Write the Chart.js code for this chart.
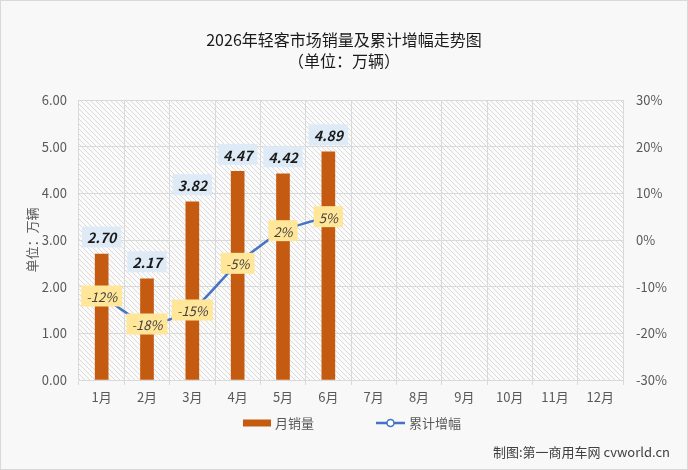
<!DOCTYPE html>
<html lang="zh-CN">
<head>
  <meta charset="UTF-8">
  <title>2026年轻客市场销量及累计增幅走势图</title>
  <style>
    body { margin: 0; background: #f8f8f8; }
    #box { width: 688px; height: 470px; }
  </style>
</head>
<body>
  <div id="box"><canvas id="grafico" width="688" height="470"></canvas></div>
  <script src="https://cdn.jsdelivr.net/npm/chart.js"></script>
  <script>
    // dados
    const meses = ['1月', '2月', '3月', '4月', '5月', '6月', '7月', '8月', '9月', '10月', '11月', '12月'];
    const vendas = [2.70, 2.17, 3.82, 4.47, 4.42, 4.89];
    const crescimento = [-12, -18, -15, -5, 2, 5];
    const eixoVendas = { min: 0, max: 6, passo: 1 };
    const eixoCresc = { min: -30, max: 30, passo: 10 };

    const FONTE = '"Noto Sans CJK SC", "Noto Sans", sans-serif';
    const CINZA = '#595959';

    // padrão hachurado do fundo da área do gráfico
    function hachura() {
      const c = document.createElement('canvas');
      c.width = 5; c.height = 5;
      const g = c.getContext('2d');
      g.fillStyle = '#fbfbfb';
      g.fillRect(0, 0, 5, 5);
      g.strokeStyle = '#dadada';
      g.lineWidth = 1;
      g.beginPath();
      g.moveTo(-1, -1); g.lineTo(6, 6);
      g.moveTo(-1, 4); g.lineTo(1, 6);
      g.moveTo(4, -1); g.lineTo(6, 1);
      g.stroke();
      return g.createPattern(c, 'repeat');
    }

    const fundo = {
      id: 'fundo',
      beforeDraw(chart) {
        const { ctx, chartArea: a, width, height } = chart;
        ctx.save();
        ctx.fillStyle = '#f8f8f8';
        ctx.fillRect(0, 0, width, height);
        ctx.strokeStyle = '#d9d9d9';
        ctx.lineWidth = 1;
        ctx.strokeRect(0.5, 0.5, width - 1, height - 1);
        ctx.fillStyle = hachura();
        ctx.fillRect(a.left, a.top, a.right - a.left, a.bottom - a.top);

        // título
        ctx.fillStyle = '#1a1a1a';
        ctx.font = '16px ' + FONTE;
        ctx.textAlign = 'center';
        ctx.textBaseline = 'middle';
        ctx.fillText('2026年轻客市场销量及累计增幅走势图', width / 2, 40);
        ctx.fillText('（单位：万辆）', width / 2, 61);

        // título do eixo y
        ctx.fillStyle = CINZA;
        ctx.font = '13px ' + FONTE;
        ctx.translate(32, (a.top + a.bottom) / 2);
        ctx.rotate(-Math.PI / 2);
        ctx.fillText('单位：万辆', 0, 0);
        ctx.restore();
      }
    };

    function caixa(ctx, texto, x, y, cor, corTexto, fonte) {
      ctx.font = fonte;
      const w = ctx.measureText(texto).width + 10;
      const h = 21;
      ctx.fillStyle = cor;
      ctx.fillRect(x - w / 2, y - h / 2, w, h);
      ctx.fillStyle = corTexto;
      ctx.textAlign = 'center';
      ctx.textBaseline = 'middle';
      ctx.fillText(texto, x, y + 1);
    }

    const rotulos = {
      id: 'rotulos',
      afterDatasetsDraw(chart) {
        const { ctx } = chart;
        ctx.save();
        chart.getDatasetMeta(0).data.forEach((el, i) => {
          caixa(ctx, vendas[i].toFixed(2), el.x, el.y - 17, '#deebf7', '#1a1a1a', 'italic bold 14px ' + FONTE);
        });
        chart.getDatasetMeta(1).data.forEach((el, i) => {
          caixa(ctx, crescimento[i] + '%', el.x, el.y, '#ffe699', '#404040', 'italic 13px ' + FONTE);
        });
        ctx.restore();
      },
      afterDraw(chart) {
        const { ctx, width, height } = chart;
        ctx.save();
        ctx.font = '13px ' + FONTE;
        ctx.textBaseline = 'middle';
        ctx.textAlign = 'left';
        // legenda
        const y = 423;
        ctx.fillStyle = '#c55a11';
        ctx.fillRect(243, y - 3.5, 28, 7);
        ctx.fillStyle = CINZA;
        ctx.fillText('月销量', 275, y);
        ctx.strokeStyle = '#4472c4';
        ctx.lineWidth = 2.5;
        ctx.beginPath();
        ctx.moveTo(376, y); ctx.lineTo(405, y);
        ctx.stroke();
        ctx.beginPath();
        ctx.arc(390.5, y, 3.5, 0, Math.PI * 2);
        ctx.fillStyle = '#ffffff';
        ctx.fill();
        ctx.lineWidth = 1.5;
        ctx.stroke();
        ctx.fillStyle = CINZA;
        ctx.fillText('累计增幅', 409, y);
        // crédito
        ctx.fillStyle = '#404040';
        ctx.textAlign = 'right';
        ctx.fillText('制图:第一商用车网 cvworld.cn', width - 18, height - 18);
        ctx.restore();
      }
    };

    new Chart(document.getElementById('grafico'), {
      data: {
        labels: meses,
        datasets: [
          {
            type: 'bar',
            label: '月销量',
            data: vendas,
            backgroundColor: '#c55a11',
            barThickness: 13,
            yAxisID: 'y',
            order: 2
          },
          {
            type: 'line',
            label: '累计增幅',
            data: crescimento,
            borderColor: '#4472c4',
            borderWidth: 2.5,
            pointRadius: 4,
            pointBackgroundColor: '#ffffff',
            pointBorderColor: '#4472c4',
            tension: 0.2,
            yAxisID: 'y1',
            order: 1
          }
        ]
      },
      options: {
        responsive: false,
        animation: false,
        layout: { padding: { top: 100, bottom: 60, left: 0, right: 0 } },
        plugins: {
          legend: { display: false },
          title: { display: false },
          tooltip: { enabled: false }
        },
        scales: {
          x: {
            offset: true,
            grid: { offset: true, color: '#d9d9d9', drawTicks: true, tickLength: 5 },
            border: { color: '#d9d9d9' },
            ticks: { color: CINZA, font: { size: 13, family: FONTE }, padding: 4 },
            afterFit(s) { s.height = 30; }
          },
          y: {
            position: 'left',
            min: eixoVendas.min,
            max: eixoVendas.max,
            grid: { color: '#d9d9d9', drawTicks: false },
            border: { display: false },
            ticks: {
              stepSize: eixoVendas.passo,
              color: CINZA,
              padding: 12,
              font: { size: 13, family: FONTE },
              callback: v => v.toFixed(2)
            },
            afterFit(s) { s.width = 79; }
          },
          y1: {
            position: 'right',
            min: eixoCresc.min,
            max: eixoCresc.max,
            grid: { drawOnChartArea: false, drawTicks: false },
            border: { display: false },
            ticks: {
              stepSize: eixoCresc.passo,
              color: CINZA,
              padding: 13,
              font: { size: 13, family: FONTE },
              callback: v => v + '%'
            },
            afterFit(s) { s.width = 65; }
          }
        }
      },
      plugins: [fundo, rotulos]
    });
  </script>
</body>
</html>
